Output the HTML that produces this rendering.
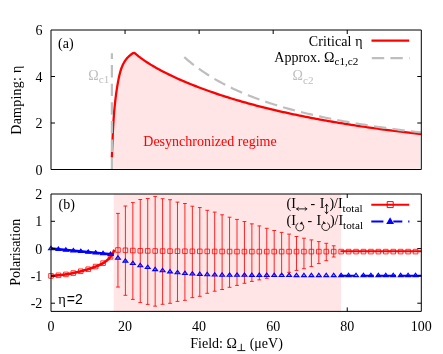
<!DOCTYPE html><html><head><meta charset="utf-8"><style>html,body{margin:0;padding:0;background:#fff}svg{display:block;will-change:transform}text{font-family:"Liberation Serif",serif;font-size:14px;fill:#000}</style></head><body>
<svg width="443" height="354" viewBox="0 0 443 354">
<rect width="443" height="354" fill="#fff"/>
<polygon points="111.90,168.70 111.84,157.53 111.89,156.27 111.94,155.01 111.99,153.75 112.04,152.49 112.09,151.24 112.13,149.98 112.18,148.73 112.23,147.48 112.28,146.23 112.33,144.97 112.37,143.73 112.42,142.48 112.47,141.23 112.53,139.98 112.58,138.74 112.63,137.49 112.69,136.25 112.74,135.00 112.80,133.76 112.86,132.52 112.92,131.28 112.98,130.03 113.05,128.79 113.11,127.55 113.18,126.31 113.25,125.07 113.32,123.84 113.40,122.60 113.48,121.36 113.56,120.12 113.64,118.88 113.73,117.64 113.82,116.41 113.91,115.17 114.01,113.93 114.11,112.69 114.21,111.45 114.32,110.22 114.43,108.98 114.55,107.74 114.66,106.50 114.79,105.26 114.91,104.03 115.05,102.79 115.18,101.55 115.32,100.31 115.47,99.07 115.62,97.83 115.78,96.59 115.94,95.35 116.10,94.10 116.27,92.86 116.45,91.62 116.63,90.37 116.82,89.13 117.01,87.88 117.21,86.64 117.42,85.39 117.63,84.14 117.85,82.89 118.07,81.64 118.30,80.39 118.54,79.14 118.79,77.90 119.06,76.65 119.34,75.42 119.63,74.19 119.95,72.97 120.28,71.76 120.64,70.57 121.02,69.39 121.42,68.22 121.86,67.07 122.33,65.95 122.83,64.84 123.36,63.75 123.93,62.70 124.54,61.66 125.18,60.66 125.87,59.68 126.61,58.74 127.39,57.82 128.22,56.95 129.09,56.10 130.03,55.30 131.01,54.54 132.05,53.81 133.15,53.14 134.50,52.90 136.56,54.67 138.63,56.35 140.69,57.94 142.75,59.44 144.82,60.88 146.88,62.26 148.94,63.59 151.01,64.86 153.07,66.10 155.13,67.29 157.20,68.45 159.26,69.58 161.32,70.68 163.39,71.76 165.45,72.81 167.51,73.84 169.58,74.84 171.64,75.83 173.70,76.80 175.77,77.74 177.83,78.68 179.89,79.59 181.96,80.49 184.02,81.38 186.08,82.25 188.15,83.11 190.21,83.95 192.27,84.78 194.34,85.60 196.40,86.41 198.46,87.20 200.53,87.98 202.59,88.75 204.65,89.51 206.72,90.26 208.78,91.00 210.84,91.73 212.91,92.45 214.97,93.16 217.03,93.86 219.10,94.55 221.16,95.23 223.22,95.90 225.29,96.56 227.35,97.21 229.41,97.86 231.48,98.49 233.54,99.12 235.60,99.74 237.67,100.35 239.73,100.96 241.79,101.55 243.86,102.14 245.92,102.72 247.98,103.30 250.05,103.86 252.11,104.42 254.17,104.97 256.24,105.52 258.30,106.06 260.36,106.59 262.43,107.12 264.49,107.63 266.55,108.15 268.62,108.65 270.68,109.15 272.74,109.65 274.81,110.14 276.87,110.62 278.93,111.10 280.99,111.57 283.06,112.03 285.12,112.49 287.18,112.95 289.25,113.40 291.31,113.84 293.37,114.28 295.44,114.72 297.50,115.14 299.56,115.57 301.63,115.99 303.69,116.40 305.75,116.81 307.82,117.22 309.88,117.62 311.94,118.02 314.01,118.41 316.07,118.80 318.13,119.18 320.20,119.56 322.26,119.94 324.32,120.31 326.39,120.67 328.45,121.04 330.51,121.40 332.58,121.75 334.64,122.11 336.70,122.45 338.77,122.80 340.83,123.14 342.89,123.48 344.96,123.81 347.02,124.14 349.08,124.47 351.15,124.79 353.21,125.11 355.27,125.43 357.34,125.75 359.40,126.06 361.46,126.36 363.53,126.67 365.59,126.97 367.65,127.27 369.72,127.57 371.78,127.86 373.84,128.15 375.91,128.44 377.97,128.72 380.03,129.00 382.10,129.28 384.16,129.56 386.22,129.83 388.29,130.10 390.35,130.37 392.41,130.64 394.48,130.90 396.54,131.16 398.60,131.42 400.67,131.68 402.73,131.93 404.79,132.19 406.86,132.43 408.92,132.68 410.98,132.93 413.05,133.17 415.11,133.41 417.17,133.65 419.24,133.89 421.30,134.12 420.10,134.12 420.10,168.70" fill="#ffe5e5"/>
<polyline points="111.84,157.53 111.89,156.27 111.94,155.01 111.99,153.75 112.04,152.49 112.09,151.24 112.13,149.98 112.18,148.73 112.23,147.48 112.28,146.23 112.33,144.97 112.37,143.73 112.42,142.48 112.47,141.23 112.53,139.98 112.58,138.74 112.63,137.49 112.69,136.25 112.74,135.00 112.80,133.76 112.86,132.52 112.92,131.28 112.98,130.03 113.05,128.79 113.11,127.55 113.18,126.31 113.25,125.07 113.32,123.84 113.40,122.60 113.48,121.36 113.56,120.12 113.64,118.88 113.73,117.64 113.82,116.41 113.91,115.17 114.01,113.93 114.11,112.69 114.21,111.45 114.32,110.22 114.43,108.98 114.55,107.74 114.66,106.50 114.79,105.26 114.91,104.03 115.05,102.79 115.18,101.55 115.32,100.31 115.47,99.07 115.62,97.83 115.78,96.59 115.94,95.35 116.10,94.10 116.27,92.86 116.45,91.62 116.63,90.37 116.82,89.13 117.01,87.88 117.21,86.64 117.42,85.39 117.63,84.14 117.85,82.89 118.07,81.64 118.30,80.39 118.54,79.14 118.79,77.90 119.06,76.65 119.34,75.42 119.63,74.19 119.95,72.97 120.28,71.76 120.64,70.57 121.02,69.39 121.42,68.22 121.86,67.07 122.33,65.95 122.83,64.84 123.36,63.75 123.93,62.70 124.54,61.66 125.18,60.66 125.87,59.68 126.61,58.74 127.39,57.82 128.22,56.95 129.09,56.10 130.03,55.30 131.01,54.54 132.05,53.81 133.15,53.14 134.50,52.90 136.56,54.67 138.63,56.35 140.69,57.94 142.75,59.44 144.82,60.88 146.88,62.26 148.94,63.59 151.01,64.86 153.07,66.10 155.13,67.29 157.20,68.45 159.26,69.58 161.32,70.68 163.39,71.76 165.45,72.81 167.51,73.84 169.58,74.84 171.64,75.83 173.70,76.80 175.77,77.74 177.83,78.68 179.89,79.59 181.96,80.49 184.02,81.38 186.08,82.25 188.15,83.11 190.21,83.95 192.27,84.78 194.34,85.60 196.40,86.41 198.46,87.20 200.53,87.98 202.59,88.75 204.65,89.51 206.72,90.26 208.78,91.00 210.84,91.73 212.91,92.45 214.97,93.16 217.03,93.86 219.10,94.55 221.16,95.23 223.22,95.90 225.29,96.56 227.35,97.21 229.41,97.86 231.48,98.49 233.54,99.12 235.60,99.74 237.67,100.35 239.73,100.96 241.79,101.55 243.86,102.14 245.92,102.72 247.98,103.30 250.05,103.86 252.11,104.42 254.17,104.97 256.24,105.52 258.30,106.06 260.36,106.59 262.43,107.12 264.49,107.63 266.55,108.15 268.62,108.65 270.68,109.15 272.74,109.65 274.81,110.14 276.87,110.62 278.93,111.10 280.99,111.57 283.06,112.03 285.12,112.49 287.18,112.95 289.25,113.40 291.31,113.84 293.37,114.28 295.44,114.72 297.50,115.14 299.56,115.57 301.63,115.99 303.69,116.40 305.75,116.81 307.82,117.22 309.88,117.62 311.94,118.02 314.01,118.41 316.07,118.80 318.13,119.18 320.20,119.56 322.26,119.94 324.32,120.31 326.39,120.67 328.45,121.04 330.51,121.40 332.58,121.75 334.64,122.11 336.70,122.45 338.77,122.80 340.83,123.14 342.89,123.48 344.96,123.81 347.02,124.14 349.08,124.47 351.15,124.79 353.21,125.11 355.27,125.43 357.34,125.75 359.40,126.06 361.46,126.36 363.53,126.67 365.59,126.97 367.65,127.27 369.72,127.57 371.78,127.86 373.84,128.15 375.91,128.44 377.97,128.72 380.03,129.00 382.10,129.28 384.16,129.56 386.22,129.83 388.29,130.10 390.35,130.37 392.41,130.64 394.48,130.90 396.54,131.16 398.60,131.42 400.67,131.68 402.73,131.93 404.79,132.19 406.86,132.43 408.92,132.68 410.98,132.93 413.05,133.17 415.11,133.41 417.17,133.65 419.24,133.89 421.30,134.12" fill="none" stroke="#ff0000" stroke-width="2.3" stroke-linejoin="miter"/>
<path d="M111.9,169.5V53.2" stroke="#bebebe" stroke-width="2.2" stroke-dasharray="12.4 6.2" stroke-dashoffset="1" fill="none"/>
<polyline points="184.30,57.13 186.29,58.86 188.28,60.55 190.27,62.18 192.27,63.77 194.26,65.31 196.25,66.81 198.24,68.27 200.23,69.70 202.22,71.08 204.22,72.43 206.21,73.74 208.20,75.02 210.19,76.27 212.18,77.49 214.17,78.68 216.17,79.84 218.16,80.97 220.15,82.07 222.14,83.15 224.13,84.21 226.12,85.24 228.12,86.24 230.11,87.23 232.10,88.19 234.09,89.14 236.08,90.06 238.07,90.96 240.06,91.84 242.06,92.71 244.05,93.56 246.04,94.38 248.03,95.20 250.02,95.99 252.01,96.78 254.01,97.54 256.00,98.29 257.99,99.03 259.98,99.75 261.97,100.46 263.96,101.15 265.96,101.84 267.95,102.51 269.94,103.17 271.93,103.81 273.92,104.45 275.91,105.07 277.91,105.68 279.90,106.28 281.89,106.87 283.88,107.45 285.87,108.03 287.86,108.59 289.85,109.14 291.85,109.68 293.84,110.22 295.83,110.74 297.82,111.26 299.81,111.77 301.80,112.27 303.80,112.76 305.79,113.25 307.78,113.72 309.77,114.19 311.76,114.66 313.75,115.11 315.75,115.56 317.74,116.01 319.73,116.44 321.72,116.87 323.71,117.29 325.70,117.71 327.69,118.12 329.69,118.53 331.68,118.93 333.67,119.32 335.66,119.71 337.65,120.09 339.64,120.47 341.64,120.84 343.63,121.21 345.62,121.57 347.61,121.93 349.60,122.28 351.59,122.63 353.59,122.97 355.58,123.31 357.57,123.65 359.56,123.98 361.55,124.30 363.54,124.63 365.54,124.94 367.53,125.26 369.52,125.57 371.51,125.87 373.50,126.18 375.49,126.47 377.48,126.77 379.48,127.06 381.47,127.35 383.46,127.63 385.45,127.91 387.44,128.19 389.43,128.47 391.43,128.74 393.42,129.00 395.41,129.27 397.40,129.53 399.39,129.79 401.38,130.05 403.38,130.30 405.37,130.55 407.36,130.80 409.35,131.04 411.34,131.28 413.33,131.52 415.33,131.76 417.32,131.99 419.31,132.23 421.30,132.45" fill="none" stroke="#bebebe" stroke-width="2.2" stroke-dasharray="12.4 6.2"/>
<rect x="113.7" y="194.0" width="227.3" height="117.4" fill="#ffe5e5"/>
<polyline points="51.00,275.90 52.07,275.83 53.15,275.76 54.22,275.68 55.30,275.59 56.37,275.50 57.45,275.40 58.52,275.30 59.60,275.19 60.67,275.07 61.75,274.95 62.82,274.82 63.89,274.68 64.97,274.53 66.04,274.38 67.12,274.22 68.19,274.04 69.27,273.86 70.34,273.66 71.42,273.46 72.49,273.24 73.57,273.02 74.64,272.79 75.72,272.54 76.79,272.27 77.86,272.00 78.94,271.73 80.01,271.45 81.09,271.18 82.16,270.90 83.24,270.63 84.31,270.35 85.39,270.06 86.46,269.76 87.54,269.44 88.61,269.11 89.68,268.75 90.76,268.37 91.83,267.97 92.91,267.57 93.98,267.17 95.06,266.77 96.13,266.37 97.21,265.96 98.28,265.52 99.36,265.05 100.43,264.54 101.51,264.00 102.58,263.42 103.65,262.80 104.73,262.11 105.80,261.33 106.88,260.49 107.95,259.57 109.03,258.54 110.10,257.36 111.18,255.92 112.25,254.21 113.33,252.15 114.40,249.80" fill="none" stroke="#ff0000" stroke-width="2.6"/>
<polyline points="51.00,248.50 113.80,254.52" fill="none" stroke="#0000ff" stroke-width="2.6"/>
<path d="M340.4,251.3H421.3" stroke="#ff0000" stroke-width="1.9" fill="none"/>
<path d="M339,275.8H355M360.8,275.8H373.8M376.6,275.8H396M399,275.8H421.3" stroke="#0000ff" stroke-width="1.9" fill="none"/>
<path d="M117.96,213.40V287.05M116.06,213.40h3.8M116.06,287.05h3.8M125.40,206.00V295.30M123.50,206.00h3.8M123.50,295.30h3.8M132.84,202.60V299.40M130.94,202.60h3.8M130.94,299.40h3.8M140.28,199.50V302.60M138.38,199.50h3.8M138.38,302.60h3.8M147.72,198.50V304.40M145.82,198.50h3.8M145.82,304.40h3.8M155.16,196.40V306.15M153.26,196.40h3.8M153.26,306.15h3.8M162.60,198.75V304.30M160.70,198.75h3.8M160.70,304.30h3.8M170.04,199.70V303.30M168.14,199.70h3.8M168.14,303.30h3.8M177.48,202.10V301.40M175.58,202.10h3.8M175.58,301.40h3.8M184.92,203.50V300.35M183.02,203.50h3.8M183.02,300.35h3.8M192.36,206.20V297.65M190.46,206.20h3.8M190.46,297.65h3.8M199.80,207.55V296.30M197.90,207.55h3.8M197.90,296.30h3.8M207.24,210.30V293.30M205.34,210.30h3.8M205.34,293.30h3.8M214.68,212.10V291.20M212.78,212.10h3.8M212.78,291.20h3.8M222.12,214.80V289.50M220.22,214.80h3.8M220.22,289.50h3.8M229.56,217.20V287.30M227.66,217.20h3.8M227.66,287.30h3.8M237.00,219.40V285.40M235.10,219.40h3.8M235.10,285.40h3.8M244.44,221.55V283.30M242.54,221.55h3.8M242.54,283.30h3.8M251.88,223.85V281.40M249.98,223.85h3.8M249.98,281.40h3.8M259.32,225.90V279.90M257.42,225.90h3.8M257.42,279.90h3.8M266.76,228.30V278.30M264.86,228.30h3.8M264.86,278.30h3.8M274.20,230.50V276.50M272.30,230.50h3.8M272.30,276.50h3.8M281.64,232.40V274.50M279.74,232.40h3.8M279.74,274.50h3.8M289.08,234.10V272.30M287.18,234.10h3.8M287.18,272.30h3.8M296.52,236.50V270.40M294.62,236.50h3.8M294.62,270.40h3.8M303.96,238.20V268.70M302.06,238.20h3.8M302.06,268.70h3.8M311.40,239.90V266.60M309.50,239.90h3.8M309.50,266.60h3.8M318.84,241.60V263.60M316.94,241.60h3.8M316.94,263.60h3.8M326.28,243.30V260.70M324.38,243.30h3.8M324.38,260.70h3.8M333.72,245.80V257.00M331.82,245.80h3.8M331.82,257.00h3.8" stroke="#ff0000" stroke-width="0.85" fill="none"/>
<path d="M48.70,273.60h4.6v4.6h-4.6zM56.14,273.01h4.6v4.6h-4.6zM63.58,272.10h4.6v4.6h-4.6zM71.02,270.78h4.6v4.6h-4.6zM78.46,268.96h4.6v4.6h-4.6zM85.90,266.94h4.6v4.6h-4.6zM93.34,264.25h4.6v4.6h-4.6zM100.78,260.84h4.6v4.6h-4.6zM108.22,254.54h4.6v4.6h-4.6zM115.66,247.70h4.6v4.6h-4.6zM123.10,248.00h4.6v4.6h-4.6zM130.54,248.25h4.6v4.6h-4.6zM137.98,248.50h4.6v4.6h-4.6zM145.42,248.60h4.6v4.6h-4.6zM152.86,248.70h4.6v4.6h-4.6zM160.30,248.80h4.6v4.6h-4.6zM167.74,248.85h4.6v4.6h-4.6zM175.18,248.90h4.6v4.6h-4.6zM182.62,248.95h4.6v4.6h-4.6zM190.06,249.00h4.6v4.6h-4.6zM197.50,249.05h4.6v4.6h-4.6zM204.94,249.10h4.6v4.6h-4.6zM212.38,249.15h4.6v4.6h-4.6zM219.82,249.20h4.6v4.6h-4.6zM227.26,249.25h4.6v4.6h-4.6zM234.70,249.30h4.6v4.6h-4.6zM242.14,249.30h4.6v4.6h-4.6zM249.58,249.30h4.6v4.6h-4.6zM257.02,249.30h4.6v4.6h-4.6zM264.46,249.30h4.6v4.6h-4.6zM271.90,249.30h4.6v4.6h-4.6zM279.34,249.30h4.6v4.6h-4.6zM286.78,249.30h4.6v4.6h-4.6zM294.22,249.30h4.6v4.6h-4.6zM301.66,249.30h4.6v4.6h-4.6zM309.10,249.30h4.6v4.6h-4.6zM316.54,249.30h4.6v4.6h-4.6zM323.98,249.30h4.6v4.6h-4.6zM331.42,249.30h4.6v4.6h-4.6zM338.86,249.30h4.6v4.6h-4.6zM346.30,249.30h4.6v4.6h-4.6zM353.74,249.30h4.6v4.6h-4.6zM361.18,249.30h4.6v4.6h-4.6zM368.62,249.30h4.6v4.6h-4.6zM376.06,249.30h4.6v4.6h-4.6zM383.50,249.30h4.6v4.6h-4.6zM390.94,249.30h4.6v4.6h-4.6zM398.38,249.30h4.6v4.6h-4.6zM405.82,249.30h4.6v4.6h-4.6zM413.26,249.30h4.6v4.6h-4.6z" stroke="#ff0000" stroke-width="0.8" fill="none"/>
<path d="M51.00,246.30l2.45,3.4h-4.9zM58.44,247.01l2.45,3.4h-4.9zM65.88,247.73l2.45,3.4h-4.9zM73.32,248.44l2.45,3.4h-4.9zM80.76,249.15l2.45,3.4h-4.9zM88.20,249.87l2.45,3.4h-4.9zM95.64,250.58l2.45,3.4h-4.9zM103.08,251.29l2.45,3.4h-4.9zM110.52,252.00l2.45,3.4h-4.9zM117.96,255.80l2.45,3.4h-4.9zM125.40,258.70l2.45,3.4h-4.9zM132.84,261.10l2.45,3.4h-4.9zM140.28,263.30l2.45,3.4h-4.9zM147.72,265.10l2.45,3.4h-4.9zM155.16,267.20l2.45,3.4h-4.9zM162.60,268.30l2.45,3.4h-4.9zM170.04,269.50l2.45,3.4h-4.9zM177.48,270.40l2.45,3.4h-4.9zM184.92,271.10l2.45,3.4h-4.9zM192.36,271.60l2.45,3.4h-4.9zM199.80,272.00l2.45,3.4h-4.9zM207.24,272.30l2.45,3.4h-4.9zM214.68,272.60l2.45,3.4h-4.9zM222.12,272.80l2.45,3.4h-4.9zM229.56,272.84l2.45,3.4h-4.9zM237.00,272.88l2.45,3.4h-4.9zM244.44,272.92l2.45,3.4h-4.9zM251.88,272.96l2.45,3.4h-4.9zM259.32,273.00l2.45,3.4h-4.9zM266.76,273.04l2.45,3.4h-4.9zM274.20,273.08l2.45,3.4h-4.9zM281.64,273.12l2.45,3.4h-4.9zM289.08,273.16l2.45,3.4h-4.9zM296.52,273.20l2.45,3.4h-4.9zM303.96,273.20l2.45,3.4h-4.9zM311.40,273.20l2.45,3.4h-4.9zM318.84,273.20l2.45,3.4h-4.9zM326.28,273.20l2.45,3.4h-4.9zM333.72,273.20l2.45,3.4h-4.9zM341.16,273.20l2.45,3.4h-4.9zM348.60,273.20l2.45,3.4h-4.9zM356.04,273.20l2.45,3.4h-4.9zM363.48,273.20l2.45,3.4h-4.9zM370.92,273.20l2.45,3.4h-4.9zM378.36,273.20l2.45,3.4h-4.9zM385.80,273.20l2.45,3.4h-4.9zM393.24,273.20l2.45,3.4h-4.9zM400.68,273.20l2.45,3.4h-4.9zM408.12,273.20l2.45,3.4h-4.9zM415.56,273.20l2.45,3.4h-4.9z" stroke="#0000ff" stroke-width="1.1" fill="#0000ff" fill-opacity="0.35"/>
<path d="M51.00,30.00H421.30V169.50H51.00zM125.06,30.00v4M199.12,30.00v4M273.18,30.00v4M347.24,30.00v4M51.00,194.00H421.30V311.40H51.00zM347.24,311.40v-4M347.24,194.00v4M51.00,123.00h4M421.30,123.00h-4M51.00,76.50h4M421.30,76.50h-4M51.00,221.30h4M421.30,221.30h-4M51.00,248.60h4M421.30,248.60h-4M51.00,275.91h4M421.30,275.91h-4M51.00,303.21h4M421.30,303.21h-4" stroke="#000" stroke-width="1" fill="none"/>
<text x="42.5" y="174.5" text-anchor="end" >0</text>
<text x="42.5" y="128.0" text-anchor="end" >2</text>
<text x="42.5" y="81.5" text-anchor="end" >4</text>
<text x="42.5" y="35.0" text-anchor="end" >6</text>
<text x="42.3" y="199.0" text-anchor="end" >2</text>
<text x="42.3" y="226.3" text-anchor="end" >1</text>
<text x="42.3" y="253.6" text-anchor="end" >0</text>
<text x="42.3" y="280.9" text-anchor="end" >-1</text>
<text x="42.3" y="308.2" text-anchor="end" >-2</text>
<text x="51.0" y="330.9" text-anchor="middle" >0</text>
<text x="125.1" y="330.9" text-anchor="middle" >20</text>
<text x="199.1" y="330.9" text-anchor="middle" >40</text>
<text x="273.2" y="330.9" text-anchor="middle" >60</text>
<text x="347.2" y="330.9" text-anchor="middle" >80</text>
<text x="421.3" y="330.9" text-anchor="middle" >100</text>
<text transform="translate(20.9,134.7) rotate(-90)" textLength="69" lengthAdjust="spacing">Damping: η</text>
<text transform="translate(19.8,252.3) rotate(-90)" text-anchor="middle">Polarisation</text>
<text x="58.0" y="47.6" text-anchor="start" >(a)</text>
<text x="58.6" y="209.4" text-anchor="start" >(b)</text>
<text x="58.2" y="303.8" text-anchor="start" style="font-size:14.5px">η</text>
<text x="66.8" y="303.8" text-anchor="start" style="font-family:'Liberation Sans',sans-serif;font-size:14px">=2</text>
<text x="143.3" y="146.4" text-anchor="start" style="fill:#ff0000">Desynchronized regime</text>
<text x="88.3" y="79.6" text-anchor="start" style="fill:#bebebe">Ω<tspan dy="3.6" style="font-size:11.2px">c1</tspan></text>
<text x="292.6" y="80.3" text-anchor="start" style="fill:#bebebe">Ω<tspan dy="3.2" style="font-size:11.2px">c2</tspan></text>
<text x="308.7" y="45.6" text-anchor="start" textLength="53.8" lengthAdjust="spacing">Critical η</text>
<text x="274.3" y="61.9" text-anchor="start" >Approx. Ω<tspan dy="3.3" style="font-size:11.2px">c1,c2</tspan></text>
<path d="M371.5,40.7H409.2" stroke="#ff0000" stroke-width="2.3"/>
<path d="M371.8,58.2H409.6" stroke="#bebebe" stroke-width="2.2" stroke-dasharray="12.4 6.2"/>
<text x="190.3" y="347.6" text-anchor="start" >Field: Ω</text>
<path d="M237.3,350.6h8M241.3,350.6v-6.8" stroke="#000" stroke-width="0.9" fill="none"/>
<text x="249.7" y="347.6" text-anchor="start" >(μeV)</text>
<text x="286.5" y="207.8" text-anchor="start" >(I</text>
<text x="310.6" y="207.8" text-anchor="start" >-</text>
<text x="319.8" y="207.8" text-anchor="start" >I</text>
<text x="329.4" y="207.8" text-anchor="start" >)/I<tspan dy="3.8" style="font-size:11.2px">total</tspan></text>
<text x="286.5" y="224.7" text-anchor="start" >(I</text>
<text x="307.6" y="224.7" text-anchor="start" >-</text>
<text x="316.4" y="224.7" text-anchor="start" >I</text>
<text x="329.9" y="224.7" text-anchor="start" >)/I<tspan dy="3.8" style="font-size:11.2px">total</tspan></text>
<path d="M296.7,208.9H306.8M298.4,207.5l-1.7,1.4l1.7,1.4M305.1,207.5l1.7,1.4l-1.7,1.4" stroke="#000" stroke-width="0.85" fill="none" stroke-linecap="round" stroke-linejoin="round"/>
<path d="M326.6,204.3V213.7M325.2,206.0l1.4,-1.7l1.4,1.7M325.2,212.0l1.4,1.7l1.4,-1.7" stroke="#000" stroke-width="0.85" fill="none" stroke-linecap="round" stroke-linejoin="round"/>
<path d="M297.92,223.37A4.00,4.00 0 1 0 301.92,223.51" stroke="#000" stroke-width="0.85" fill="none" stroke-linecap="round" stroke-linejoin="round"/>
<path d="M302.22,224.11l-2.3,-0.3l2.1,-2.0z" fill="#000" stroke="#000" stroke-width="0.5"/>
<path d="M327.58,222.97A4.00,4.00 0 1 1 323.58,223.11" stroke="#000" stroke-width="0.85" fill="none" stroke-linecap="round" stroke-linejoin="round"/>
<path d="M323.28,223.71l2.3,-0.3l-2.1,-2.0z" fill="#000" stroke="#000" stroke-width="0.5"/>
<path d="M371.3,204.7H409.2" stroke="#ff0000" stroke-width="2.0"/>
<path d="M387.2,201.6h6v6h-6zM387.2,204.6h6" stroke="#ff0000" stroke-width="1" fill="none"/>
<path d="M371.3,221.4H383.4M393.3,221.4H402.3M408.2,221.4h1.2" stroke="#0000ff" stroke-width="2.0"/>
<path d="M390.1,217.2l3.9,6.8h-7.8z" fill="#0000ff"/>
</svg></body></html>
